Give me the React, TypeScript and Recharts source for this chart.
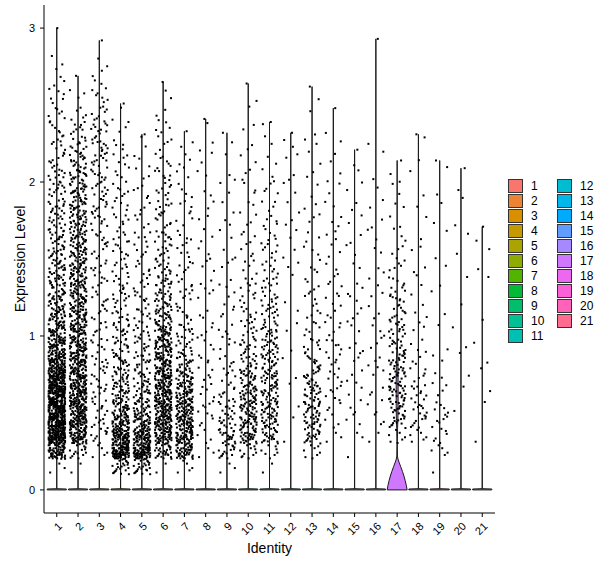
import { Scatter, ScatterChart, XAxis, YAxis } from "recharts";

const identities = [
  "1", "2", "3", "4", "5", "6", "7", "8", "9", "10", "11",
  "12", "13", "14", "15", "16", "17", "18", "19", "20", "21",
];

const identityColors = [
  "#F8766D", "#EB8335", "#DA8F00", "#C49A00", "#AAA300", "#8EAB00", "#53B400",
  "#00BA38", "#00BE6C", "#00C094", "#00C0B4", "#00BDD2", "#00B6EB", "#00ABFD",
  "#619CFF", "#A58AFF", "#CF78FF", "#EB69F0", "#FB61D7", "#FF63B9", "#FF6C90",
];

// highest expression per identity (top of each violin)
const maxLevel = [
  3.0, 2.69, 2.92, 2.51, 2.31, 2.65, 2.33, 2.41, 2.32, 2.64, 2.39,
  2.32, 2.62, 2.48, 2.21, 2.93, 2.14, 2.31, 2.14, 2.09, 1.71,
];

const cells1 = [0, 3, 60, 115, 125, 125, 115, 95, 70, 52, 40, 32, 27, 23, 21, 19, 17, 15, 14, 13, 11, 9, 8, 7, 6, 5, 4, 2, 1];
const cells2 = [0, 2, 15, 55, 65, 65, 62, 58, 54, 48, 42, 40, 37, 35, 33, 31, 30, 29, 27, 25, 22, 17, 12, 8, 5, 3];
const cells3 = [0, 0, 5, 9, 9, 9, 9, 8, 8, 7, 7, 7, 7, 7, 7, 7, 8, 9, 10, 10, 10, 11, 12, 10, 8, 6, 4, 2, 1];
const cells4 = [0, 22, 85, 70, 48, 34, 26, 21, 17, 15, 13, 11, 10, 9, 8, 8, 7, 7, 6, 6, 5, 5, 4, 3, 2];
const cells5 = [0, 24, 80, 62, 40, 27, 20, 16, 13, 11, 10, 9, 8, 7, 6, 6, 5, 5, 4, 4, 3, 3, 2];
const cells6 = [0, 2, 30, 55, 60, 60, 56, 52, 47, 40, 33, 25, 20, 16, 13, 11, 10, 9, 9, 8, 7, 6, 5, 4, 3, 2];
const cells7 = [0, 5, 45, 52, 52, 48, 40, 29, 19, 13, 10, 8, 7, 6, 6, 5, 5, 4, 4, 4, 3, 3, 2];
const cells8 = [0, 0, 3, 4, 5, 5, 5, 5, 4, 4, 4, 3, 3, 3, 3, 3, 3, 2, 2, 2, 2, 2, 2, 1];
const cells9 = [0, 3, 16, 20, 16, 11, 8, 6, 5, 5, 4, 4, 3, 3, 3, 2, 2, 2, 2, 2, 2, 1, 1];
const cells10 = [0, 0, 12, 32, 35, 32, 28, 22, 16, 12, 10, 8, 7, 6, 5, 4, 4, 3, 3, 3, 3, 2, 2, 2, 1, 1];
const cells11 = [0, 2, 8, 22, 26, 26, 24, 23, 21, 19, 16, 13, 11, 9, 8, 7, 6, 5, 4, 4, 3, 2, 2, 1];
const cells12 = [0, 0, 0, 1, 1, 1, 1, 1, 1, 1, 2, 1, 1, 1, 2, 2, 2, 2, 2, 2, 2, 2, 2];
const cells13 = [0, 0, 8, 20, 22, 22, 20, 15, 11, 8, 6, 5, 5, 4, 4, 3, 3, 3, 2, 2, 2, 2, 2, 1, 1, 1];
const cells14 = [0, 0, 0, 3, 4, 5, 5, 6, 6, 5, 5, 4, 4, 4, 3, 3, 3, 3, 2, 2, 2, 2, 1, 1];
const cells15 = [0, 0, 1, 2, 3, 3, 3, 3, 3, 3, 3, 3, 3, 2, 2, 2, 2, 2, 2, 2, 1, 1];
const cells16 = [0, 0, 0, 2, 3, 3, 3, 3, 3, 3, 3, 3, 2, 2, 2, 2, 2, 2, 2, 1, 1, 1, 1];
const cells17 = [0, 0, 0, 7, 16, 20, 21, 20, 17, 14, 13, 11, 10, 7, 5, 4, 3, 2, 2, 2, 2];
const cells18 = [0, 0, 0, 6, 10, 9, 8, 6, 4, 3, 3, 2, 2, 2, 2, 2, 1, 1, 1, 1, 1, 1, 1];
const cells19 = [0, 1, 5, 6, 6, 5, 4, 2, 2, 1, 1, 1, 1, 1, 1, 1, 1, 1, 1, 1, 1];
const cells20 = [0, 0, 0, 0, 0, 1, 1, 1, 1, 1, 1, 0, 1, 1, 0, 1, 1, 1, 1, 1];
const cells21 = [0, 0, 0, 1, 0, 1, 1, 1, 1, 1, 0, 1, 0, 1, 1, 1, 1];

const cellsPerBin = [
  cells1, cells2, cells3, cells4, cells5, cells6, cells7, cells8, cells9, cells10, cells11,
  cells12, cells13, cells14, cells15, cells16, cells17, cells18, cells19, cells20, cells21,
];

// horizontal jitter (identity units) and position inside a bin, cycled like geom_jitter
const jitter = [
  -0.31, 0.12, 0.37, -0.05, 0.24, -0.38, 0.02, 0.29, -0.19, 0.33, -0.27, 0.08, -0.12, 0.35, -0.35,
  0.18, -0.02, 0.26, -0.23, 0.05, 0.39, -0.15, 0.21, -0.33, 0.14, -0.08, 0.31, -0.21, 0.1,
];
const binOffset = [
  0.13, 0.71, 0.42, 0.9, 0.27, 0.56, 0.05, 0.83, 0.34, 0.64, 0.19, 0.97, 0.48, 0.76, 0.09, 0.6,
  0.38, 0.88, 0.23, 0.52, 0.02, 0.69, 0.31, 0.94, 0.45, 0.15, 0.8, 0.58, 0.29, 0.73, 0.4,
];

// violin of identity 17 (the only one with visible width): level and half width
const violin17Level = [0, 0.03, 0.06, 0.09, 0.12, 0.15, 0.18, 0.2, 0.22, 0.3, 0.4, 0.45, 0.55, 0.7, 0.85, 0.92, 1.0, 1.5, 2.14];
const violin17Half = [0.47, 0.43, 0.38, 0.32, 0.25, 0.17, 0.09, 0.04, 0.015, 0.008, 0.02, 0.035, 0.045, 0.045, 0.035, 0.015, 0.004, 0.001, 0];

// other violins: a flat spike at zero, then a hairline up to the top cell
const spikeLevel = [0, 0.006, 0.008];
const spikeHalf = [0.45, 0.45, 0];

const FONT = "'Liberation Sans', Arial, sans-serif";

function cellPoints(index: number) {
  const pts: { x: number; y: number }[] = [];
  let k = 0;
  cellsPerBin[index].forEach((n, bin) => {
    for (let j = 0; j < n; j++, k++) {
      pts.push({
        x: index + 1 + jitter[k % jitter.length],
        y: (bin + binOffset[k % binOffset.length]) / 10,
      });
    }
  });
  pts.push({ x: index + 1 + jitter[k % jitter.length] * 0.5, y: maxLevel[index] });
  return pts;
}

function violinOutline(index: number) {
  const center = index + 1;
  const levels = index === 16 ? violin17Level : [...spikeLevel, maxLevel[index]];
  const half = index === 16 ? violin17Half : [...spikeHalf, 0];
  const right = levels.map((y, i) => ({ x: center + half[i], y }));
  const left = levels.map((y, i) => ({ x: center - half[i], y })).reverse();
  return [...right, ...left, right[0]];
}

const CellDot = (props: any) => (
  <rect x={props.cx - 1} y={props.cy - 1} width={2} height={2} fill="#000" />
);

const NoDot = () => <g />;

function XTick({ x, y, payload }: any) {
  const ax = x + 6;
  const ay = y + 8;
  return (
    <text
      x={ax}
      y={ay}
      transform={`rotate(-45 ${ax} ${ay})`}
      textAnchor="end"
      fontSize={11}
      fontFamily={FONT}
      fill="#000"
    >
      {identities[payload.value - 1]}
    </text>
  );
}

function LegendColumn({ from, to }: { from: number; to: number }) {
  return (
    <div style={{ display: "flex", flexDirection: "column" }}>
      {identities.slice(from, to).map((name, i) => (
        <div key={name} style={{ display: "flex", alignItems: "center", height: 15 }}>
          <span
            style={{
              width: 15,
              height: 14,
              boxSizing: "border-box",
              border: "1px solid #333",
              background: identityColors[from + i],
            }}
          />
          <span style={{ marginLeft: 8, fontSize: 12, fontFamily: FONT, color: "#000", width: 20 }}>{name}</span>
        </div>
      ))}
    </div>
  );
}

export default function App() {
  return (
    <div style={{ position: "absolute", left: 0, top: 0, width: 600, height: 568, background: "#fff" }}>
      <ScatterChart width={600} height={568} margin={{ top: 5, right: 105, bottom: 0, left: 0 }}>
        <XAxis
          type="number"
          dataKey="x"
          domain={[0.4, 21.6]}
          ticks={identities.map((_, i) => i + 1)}
          interval={0}
          allowDataOverflow
          height={55}
          tickSize={4}
          tick={<XTick />}
          axisLine={{ stroke: "#000", strokeWidth: 1 }}
          tickLine={{ stroke: "#000", strokeWidth: 1 }}
          label={{
            content: (p: any) => (
              <text
                x={p.viewBox.x + p.viewBox.width / 2}
                y={p.viewBox.y + 40}
                textAnchor="middle"
                fontSize={14}
                fontFamily={FONT}
                fill="#000"
              >
                Identity
              </text>
            ),
          }}
        />
        <YAxis
          type="number"
          dataKey="y"
          domain={[-0.15, 3.15]}
          ticks={[0, 1, 2, 3]}
          allowDataOverflow
          width={44}
          tickSize={4}
          tickMargin={5}
          tick={{ fontSize: 11, fontFamily: FONT, fill: "#000" }}
          axisLine={{ stroke: "#000", strokeWidth: 1 }}
          tickLine={{ stroke: "#000", strokeWidth: 1 }}
          label={{
            content: (p: any) => {
              const cx = p.viewBox.x + 20;
              const cy = p.viewBox.y + p.viewBox.height / 2;
              return (
                <text
                  x={cx}
                  y={cy}
                  transform={`rotate(-90 ${cx} ${cy})`}
                  textAnchor="middle"
                  dominantBaseline="central"
                  fontSize={14}
                  fontFamily={FONT}
                  fill="#000"
                >
                  Expression Level
                </text>
              );
            },
          }}
        />
        {identities.map((name, i) => (
          <Scatter
            key={`violin-${name}`}
            data={violinOutline(i)}
            line={{ stroke: "#1a1a1a", strokeWidth: 1, fill: identityColors[i] }}
            lineType="joint"
            shape={NoDot}
            isAnimationActive={false}
          />
        ))}
        {identities.map((name, i) => (
          <Scatter
            key={`cells-${name}`}
            data={cellPoints(i)}
            shape={CellDot}
            isAnimationActive={false}
          />
        ))}
      </ScatterChart>
      <div style={{ position: "absolute", left: 508, top: 178, display: "flex", gap: 6 }}>
        <LegendColumn from={0} to={11} />
        <LegendColumn from={11} to={21} />
      </div>
    </div>
  );
}
